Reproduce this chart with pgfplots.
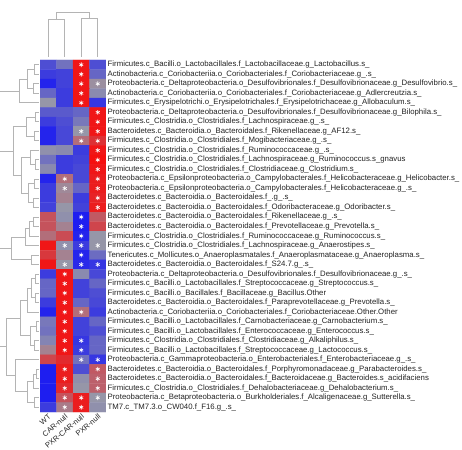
\documentclass[border=0pt]{standalone}
\usepackage{fontspec}
\setmainfont{Liberation Sans}
\usepackage{pgfplots}
\pgfplotsset{compat=1.18}
\definecolor{dgray}{RGB}{180,180,180}
\definecolor{txt}{RGB}{35,35,35}
\newcommand{\mrg}[5]{\addplot[dgray, line width=0.8pt] coordinates {(#1,#2) (#3,#2) (#3,#4) (#5,#4)};}
\begin{document}
\begin{tikzpicture}
\path[use as bounding box] (0pt,0pt) rectangle (462pt,449pt);
% heatmap
\begin{axis}[at={(40pt,389pt)}, anchor=north west, scale only axis,
  width=66pt, height=352pt,
  xmin=0.5, xmax=4.5, ymin=0.5, ymax=37.5, y dir=reverse,
  axis line style={draw=none}, tick style={draw=none},
  xtick={1,2,3,4}, xticklabels={WT,CAR-null,PXR-CAR-null,PXR-null},
  x tick label style={rotate=40, anchor=north east, font=\fontsize{7.5}{8}\selectfont, text=txt, inner sep=1pt},
  ytick={1,...,37}, yticklabel pos=right,
  y tick label style={anchor=west, font=\fontsize{7.8}{8}\selectfont, text=txt, inner sep=1.5pt},
  yticklabels={
Firmicutes.c\_Bacilli.o\_Lactobacillales.f\_Lactobacillaceae.g\_Lactobacillus.s\_,
Actinobacteria.c\_Coriobacteriia.o\_Coriobacteriales.f\_Coriobacteriaceae.g\_.s\_,
Proteobacteria.c\_Deltaproteobacteria.o\_Desulfovibrionales.f\_Desulfovibrionaceae.g\_Desulfovibrio.s\_,
Actinobacteria.c\_Coriobacteriia.o\_Coriobacteriales.f\_Coriobacteriaceae.g\_Adlercreutzia.s\_,
Firmicutes.c\_Erysipelotrichi.o\_Erysipelotrichales.f\_Erysipelotrichaceae.g\_Allobaculum.s\_,
Proteobacteria.c\_Deltaproteobacteria.o\_Desulfovibrionales.f\_Desulfovibrionaceae.g\_Bilophila.s\_,
Firmicutes.c\_Clostridia.o\_Clostridiales.f\_Lachnospiraceae.g\_.s\_,
Bacteroidetes.c\_Bacteroidia.o\_Bacteroidales.f\_Rikenellaceae.g\_AF12.s\_,
Firmicutes.c\_Clostridia.o\_Clostridiales.f\_Mogibacteriaceae.g\_.s\_,
Firmicutes.c\_Clostridia.o\_Clostridiales.f\_Ruminococcaceae.g\_.s\_,
Firmicutes.c\_Clostridia.o\_Clostridiales.f\_Lachnospiraceae.g\_Ruminococcus.s\_gnavus,
Firmicutes.c\_Clostridia.o\_Clostridiales.f\_Clostridiaceae.g\_Clostridium.s\_,
Proteobacteria.c\_Epsilonproteobacteria.o\_Campylobacterales.f\_Helicobacteraceae.g\_Helicobacter.s\_,
Proteobacteria.c\_Epsilonproteobacteria.o\_Campylobacterales.f\_Helicobacteraceae.g\_.s\_,
Bacteroidetes.c\_Bacteroidia.o\_Bacteroidales.f\_.g\_.s\_,
Bacteroidetes.c\_Bacteroidia.o\_Bacteroidales.f\_Odoribacteraceae.g\_Odoribacter.s\_,
Bacteroidetes.c\_Bacteroidia.o\_Bacteroidales.f\_Rikenellaceae.g\_.s\_,
Bacteroidetes.c\_Bacteroidia.o\_Bacteroidales.f\_Prevotellaceae.g\_Prevotella.s\_,
Firmicutes.c\_Clostridia.o\_Clostridiales.f\_Ruminococcaceae.g\_Ruminococcus.s\_,
Firmicutes.c\_Clostridia.o\_Clostridiales.f\_Lachnospiraceae.g\_Anaerostipes.s\_,
Tenericutes.c\_Mollicutes.o\_Anaeroplasmatales.f\_Anaeroplasmataceae.g\_Anaeroplasma.s\_,
Bacteroidetes.c\_Bacteroidia.o\_Bacteroidales.f\_S24.7.g\_.s\_,
Proteobacteria.c\_Deltaproteobacteria.o\_Desulfovibrionales.f\_Desulfovibrionaceae.g\_.s\_,
Firmicutes.c\_Bacilli.o\_Lactobacillales.f\_Streptococcaceae.g\_Streptococcus.s\_,
Firmicutes.c\_Bacilli.o\_Bacillales.f\_Bacillaceae.g\_Bacillus.Other,
Bacteroidetes.c\_Bacteroidia.o\_Bacteroidales.f\_Paraprevotellaceae.g\_Prevotella.s\_,
Actinobacteria.c\_Coriobacteriia.o\_Coriobacteriales.f\_Coriobacteriaceae.Other.Other,
Firmicutes.c\_Bacilli.o\_Lactobacillales.f\_Carnobacteriaceae.g\_Carnobacterium.s\_,
Firmicutes.c\_Bacilli.o\_Lactobacillales.f\_Enterococcaceae.g\_Enterococcus.s\_,
Firmicutes.c\_Clostridia.o\_Clostridiales.f\_Clostridiaceae.g\_Alkaliphilus.s\_,
Firmicutes.c\_Bacilli.o\_Lactobacillales.f\_Streptococcaceae.g\_Lactococcus.s\_,
Proteobacteria.c\_Gammaproteobacteria.o\_Enterobacteriales.f\_Enterobacteriaceae.g\_.s\_,
Bacteroidetes.c\_Bacteroidia.o\_Bacteroidales.f\_Porphyromonadaceae.g\_Parabacteroides.s\_,
Bacteroidetes.c\_Bacteroidia.o\_Bacteroidales.f\_Bacteroidaceae.g\_Bacteroides.s\_acidifaciens,
Firmicutes.c\_Clostridia.o\_Clostridiales.f\_Dehalobacteriaceae.g\_Dehalobacterium.s\_,
Proteobacteria.c\_Betaproteobacteria.o\_Burkholderiales.f\_Alcaligenaceae.g\_Sutterella.s\_,
TM7.c\_TM7.3.o\_CW040.f\_F16.g\_.s\_},
  colormap={bgr}{rgb255(0cm)=(30,30,240); rgb255(1cm)=(150,150,168); rgb255(2cm)=(245,15,15)},
  point meta min=-2, point meta max=2]
\addplot[matrix plot*, mesh/cols=4, point meta=explicit] table[meta=c] {
x y c
1 1 -1.2
2 1 -0.6
3 1 1.9
4 1 -1.2
1 2 -1.5
2 2 -1.4
3 2 1.9
4 2 -0.8
1 3 -1.9
2 3 -1.4
3 3 1.9
4 3 0.1
1 4 -0.8
2 4 -1.5
3 4 1.9
4 4 -0.2
1 5 0.0
2 5 -1.5
3 5 1.9
4 5 -1.6
1 6 -1.0
2 6 -1.0
3 6 -0.8
4 6 1.9
1 7 -1.5
2 7 -1.2
3 7 -0.5
4 7 1.9
1 8 -1.9
2 8 -1.3
3 8 0.0
4 8 1.9
1 9 -1.9
2 9 -1.3
3 9 0.6
4 9 1.5
1 10 -0.1
2 10 -0.2
3 10 -1.5
4 10 1.9
1 11 -0.6
2 11 -1.5
3 11 -1.4
4 11 2.0
1 12 -0.2
2 12 -1.5
3 12 -1.3
4 12 1.9
1 13 -1.9
2 13 0.6
3 13 -1.3
4 13 1.8
1 14 -1.5
2 14 0.2
3 14 -0.8
4 14 1.8
1 15 -1.5
2 15 0.3
3 15 -1.5
4 15 1.7
1 16 -1.4
2 16 0.0
3 16 -1.4
4 16 1.8
1 17 1.0
2 17 -0.1
3 17 -2.0
4 17 0.9
1 18 1.0
2 18 0.3
3 18 -2.0
4 18 1.2
1 19 0.6
2 19 1.1
3 19 -1.9
4 19 0.0
1 20 1.9
2 20 -0.1
3 20 -1.5
4 20 0.0
1 21 1.4
2 21 0.3
3 21 -1.9
4 21 -0.7
1 22 1.9
2 22 0.0
3 22 -1.8
4 22 -1.6
1 23 -1.5
2 23 1.9
3 23 -0.2
4 23 -1.3
1 24 -0.8
2 24 1.9
3 24 -1.4
4 24 -0.8
1 25 -0.8
2 25 1.9
3 25 -1.4
4 25 -1.2
1 26 -1.5
2 26 1.9
3 26 -0.8
4 26 -1.3
1 27 -1.9
2 27 1.9
3 27 0.6
4 27 -1.5
1 28 -0.5
2 28 1.9
3 28 -1.4
4 28 -0.8
1 29 -0.6
2 29 1.9
3 29 -1.4
4 29 -1.2
1 30 -0.3
2 30 1.9
3 30 -1.6
4 30 -0.8
1 31 0.3
2 31 1.9
3 31 -1.5
4 31 -0.8
1 32 1.2
2 32 1.6
3 32 -0.6
4 32 -1.6
1 33 -2.0
2 33 1.8
3 33 -1.2
4 33 0.9
1 34 -2.0
2 34 1.8
3 34 -0.1
4 34 0.8
1 35 -2.0
2 35 1.6
3 35 0.0
4 35 0.8
1 36 -2.0
2 36 1.0
3 36 1.8
4 36 0.0
1 37 -1.5
2 37 0.4
3 37 1.8
4 37 -0.1
};
\addplot[only marks, mark=asterisk, mark size=2.3pt, white, line width=0.6pt] coordinates {
(3,1) (3,2) (3,3) (4,3) (3,4) (3,5) (4,6) (4,7) (3,8) (4,8) (3,9) (4,9)
(4,10) (4,11) (4,12) (2,13) (4,13) (2,14) (4,14) (4,15) (4,16) (3,17) (3,18) (3,19)
(2,20) (3,20) (4,20) (3,21) (2,22) (3,22) (4,22) (2,23) (2,24) (2,25) (2,26) (2,27) (3,27)
(2,28) (2,29) (2,30) (3,30) (2,31) (3,31) (3,32) (4,32) (2,33) (4,33) (2,34) (4,34) (2,35) (4,35)
(2,36) (3,36) (4,36) (2,37) (3,37)};
\end{axis}
% column dendrogram
\begin{axis}[at={(40pt,389pt)}, anchor=south west, scale only axis, width=66pt, height=48pt,
  xmin=0.5, xmax=4.5, ymin=0, ymax=48, hide axis]
\addplot[dgray, line width=0.8pt] coordinates {(1,3) (1,41) (2,41) (2,3)};
\addplot[dgray, line width=0.8pt] coordinates {(3,3) (3,41.7) (4,41.7) (4,3)};
\addplot[dgray, line width=0.8pt] coordinates {(1.5,41) (1.5,47.3) (3.5,47.3) (3.5,41.7)};
\end{axis}
% row dendrogram
\begin{axis}[at={(0pt,389pt)}, anchor=north west, scale only axis, width=40pt, height=352pt,
  xmin=0, xmax=40, ymin=0.5, ymax=37.5, y dir=reverse, hide axis]
\mrg{39}{1}{34}{2}{39}
\mrg{39}{3}{33}{4}{39}
\mrg{34}{1.5}{27}{3.5}{33}
\mrg{27}{2.5}{19}{5}{39}
\addplot[dgray, line width=0.8pt] coordinates {(19,3.75) (-1,3.75)};
\mrg{39}{6}{35}{7}{39}
\mrg{39}{8}{34}{9}{39}
\mrg{35}{6.5}{26}{8.5}{34}
\mrg{39}{11}{35}{12}{39}
\mrg{39}{10}{30}{11.5}{35}
\mrg{39}{13}{34}{14}{39}
\mrg{39}{15}{33}{16}{39}
\mrg{34}{13.5}{28}{15.5}{33}
\mrg{30}{10.75}{21}{14.5}{28}
\mrg{26}{7.5}{13}{12.625}{21}
\addplot[dgray, line width=0.8pt] coordinates {(13,10.0625) (-1,10.0625)};
\mrg{39}{17}{33}{18}{39}
\mrg{33}{17.5}{29}{19}{39}
\mrg{29}{18.25}{25}{20}{39}
\mrg{39}{21}{31}{22}{39}
\mrg{25}{19.125}{11}{21.5}{31}
\addplot[dgray, line width=0.8pt] coordinates {(11,20.3125) (-1,20.3125)};
\mrg{39}{23}{35}{24}{39}
\mrg{39}{25}{35}{26}{39}
\mrg{35}{23.5}{31}{25.5}{35}
\mrg{31}{24.5}{27}{27}{39}
\mrg{39}{28}{36}{29}{39}
\mrg{39}{30}{34}{31}{39}
\mrg{36}{28.5}{30}{30.5}{34}
\mrg{27}{25.75}{20}{29.5}{30}
\mrg{39}{33}{36}{34}{39}
\mrg{36}{33.5}{33}{35}{39}
\mrg{39}{36}{34}{37}{39}
\mrg{33}{34.25}{27}{36.5}{34}
\mrg{39}{32}{15}{35.375}{27}
\mrg{20}{27.625}{6}{33.6875}{15}
\addplot[dgray, line width=0.8pt] coordinates {(6,30.656) (-1,30.656)};
\end{axis}
\end{tikzpicture}
\end{document}
